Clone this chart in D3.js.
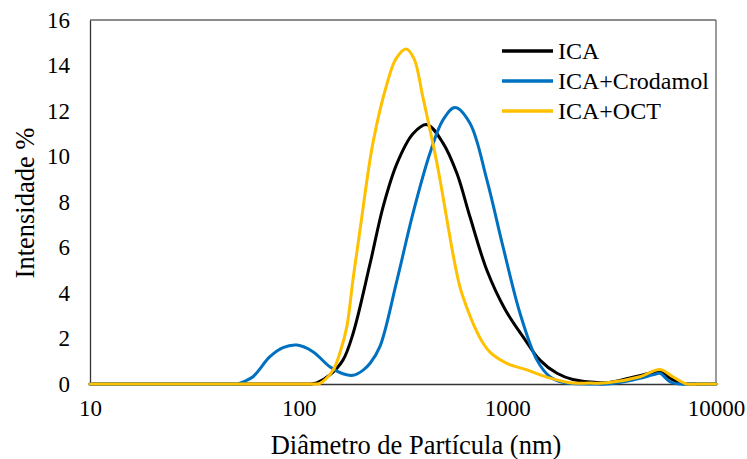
<!DOCTYPE html>
<html>
<head>
<meta charset="utf-8">
<script src="https://cdn.jsdelivr.net/npm/d3@7"></script>
<style>
  html, body { margin: 0; padding: 0; background: #fff; }
  svg { display: block; }
  text { font-family: "Liberation Serif", "Times New Roman", serif; fill: #000; }
</style>
</head>
<body>
<svg id="chart" width="747" height="459"></svg>
<script>
// ---- data (diameter in nm, intensity in %) ----
const seriesNames = ["ICA", "ICA+Crodamol", "ICA+OCT"];
const seriesColors = ["#000000", "#0070C0", "#FFC000"];

const icaD = [10, 20, 40, 70, 95, 106, 113, 122, 141, 163, 182, 220, 254, 296, 353, 412, 491, 573, 662, 798, 973, 1188, 1433, 1730, 2061, 3000, 3998, 4820, 5385, 6213, 6935, 7700, 8800, 10000];
const icaI = [0, 0, 0, 0, 0, 0, 0, 0.05, 0.4, 1.05, 2.2, 5.3, 7.8, 9.7, 11.0, 11.4, 10.6, 9.26, 7.35, 5.0, 3.3, 2.08, 1.05, 0.47, 0.2, 0.06, 0.3, 0.47, 0.54, 0.18, 0.02, 0, 0, 0];

const crodD = [10, 18, 28, 38, 46, 50.6, 55, 60.4, 72.8, 84.1, 98.2, 117, 141, 163, 182, 203, 220, 245, 296, 353, 426, 491, 561, 662, 798, 953, 1149, 1387, 1600, 1847, 2061, 2500, 3000, 3998, 4990, 5385, 6010, 6710, 7500, 8500, 10000];
const crodI = [0, 0, 0, 0, 0, 0, 0.12, 0.32, 1.2, 1.6, 1.71, 1.42, 0.76, 0.45, 0.38, 0.6, 0.91, 1.64, 4.57, 7.5, 10.15, 11.6, 12.15, 11.46, 8.97, 6.04, 3.12, 1.05, 0.32, 0.07, 0.02, 0, 0, 0.18, 0.4, 0.47, 0.1, 0, 0, 0, 0];

const octD = [10, 20, 40, 70, 95, 110, 120, 126.5, 146, 158, 170, 182, 197, 227, 265, 293, 327, 357, 394, 460, 514, 548, 593, 640, 690, 764, 830, 995, 1241, 1600, 2061, 2488, 3000, 4318, 5385, 6213, 7257, 8200, 9100, 10000];
const octI = [0, 0, 0, 0, 0, 0, 0, 0.03, 0.6, 1.4, 2.5, 4.57, 6.8, 10.6, 13.2, 14.3, 14.72, 14.3, 12.6, 9.7, 7.2, 5.75, 4.26, 3.35, 2.6, 1.8, 1.38, 0.91, 0.62, 0.26, 0.04, 0.04, 0.05, 0.32, 0.64, 0.32, 0, 0, 0, 0];

const xTicks = [10, 100, 1000, 10000];
const yTicks = [0, 2, 4, 6, 8, 10, 12, 14, 16];
const xTitle = "Diâmetro de Partícula (nm)";
const yTitle = "Intensidade %";

// ---- layout ----
const svg = d3.select("#chart");
const L = 90, R = 716, T = 20, B = 384;

const x = d3.scaleLog().domain([10, 10000]).range([L, R]);
const y = d3.scaleLinear().domain([0, 16]).range([B, T]);

// frame
svg.append("line").attr("x1", L).attr("x2", R).attr("y1", T).attr("y2", T)
  .attr("stroke", "#666").attr("stroke-width", 1.3);
svg.append("line").attr("x1", R).attr("x2", R).attr("y1", T).attr("y2", B)
  .attr("stroke", "#666").attr("stroke-width", 1.3);

// y axis
const yAxis = d3.axisLeft(y).tickValues(yTicks).tickSize(0).tickPadding(20);
const gy = svg.append("g").attr("transform", `translate(${L},0)`).call(yAxis);
gy.select(".domain").attr("stroke", "#333").attr("stroke-width", 1.3);
gy.selectAll("text").style("font-size", "23px").style("font-family", "Liberation Serif");

// x axis
const xAxis = d3.axisBottom(x).tickValues(xTicks).tickFormat(d3.format("d")).tickSize(0).tickPadding(16);
const gx = svg.append("g").attr("transform", `translate(0,${B})`).call(xAxis);
gx.select(".domain").attr("stroke", "#333").attr("stroke-width", 1.3);
gx.selectAll("text").style("font-size", "23px").style("font-family", "Liberation Serif");

// titles
svg.append("text").attr("x", 416).attr("y", 454).attr("text-anchor", "middle")
  .style("font-size", "26.5px").text(xTitle);
svg.append("text").attr("transform", "translate(34,203) rotate(-90)").attr("text-anchor", "middle")
  .style("font-size", "26.5px").text(yTitle);

// lines
const line = d3.line().x(d => x(d[0])).y(d => y(Math.max(0, d[1]))).curve(d3.curveCatmullRom.alpha(0.5));
const series = [
  d3.zip(icaD, icaI),
  d3.zip(crodD, crodI),
  d3.zip(octD, octI)
];
series.forEach((s, i) => {
  svg.append("path").datum(s).attr("d", line)
    .attr("fill", "none").attr("stroke", seriesColors[i])
    .attr("stroke-width", 3).attr("stroke-linejoin", "round").attr("stroke-linecap", "round");
});

// legend
const legY = [51, 81, 111];
seriesNames.forEach((n, i) => {
  svg.append("line").attr("x1", 502).attr("x2", 553).attr("y1", legY[i]).attr("y2", legY[i])
    .attr("stroke", seriesColors[i]).attr("stroke-width", 3.5);
  svg.append("text").attr("x", 558).attr("y", legY[i] + 8)
    .style("font-size", "24px").text(n);
});
</script>
</body>
</html>
